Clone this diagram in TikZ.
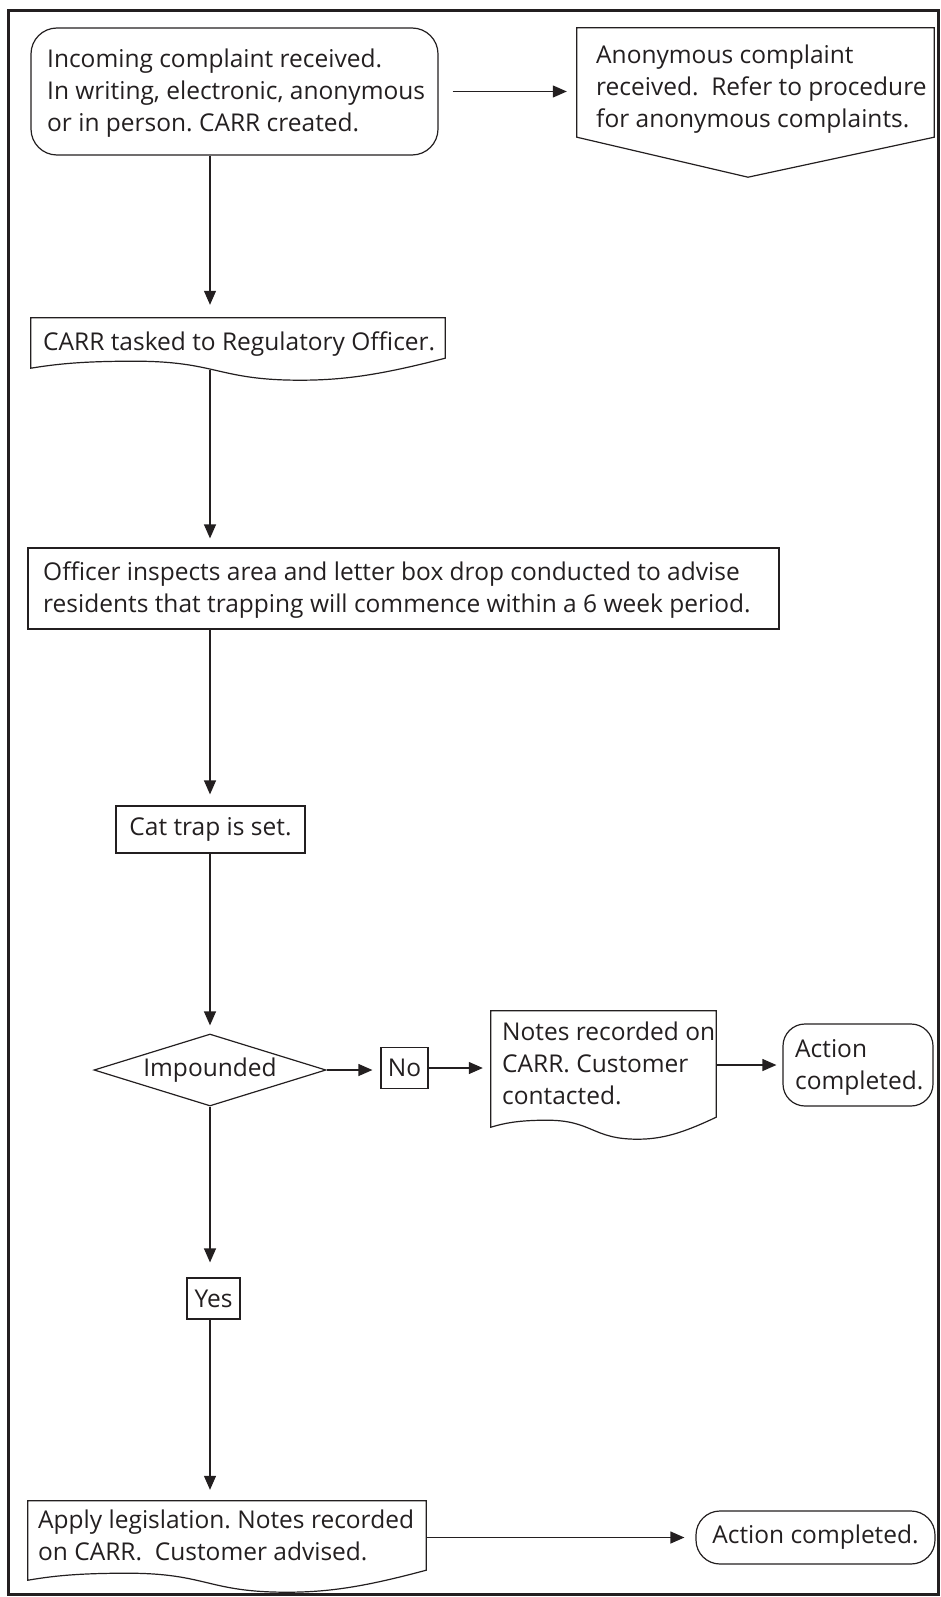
\documentclass[tikz,border=0pt]{standalone}
\usepackage{fontspec}
\setmainfont{Open Sans}
\usetikzlibrary{arrows.meta,shapes.geometric,calc}
\definecolor{ink}{HTML}{231F20}
\newcommand\fs{\fontsize{24.5pt}{32pt}\selectfont}
\newcommand\docshape[1]{%
  \draw[shapeline] (#1.north west) -- (#1.north east) -- ($(#1.south east)+(0,-10)$)
    .. controls ($(#1.south west)!0.85!(#1.south east)+(0,6)$) and ($(#1.south west)!0.76!(#1.south east)+(0,12)$) .. ($(#1.south west)!0.65!(#1.south east)+(0,12)$)
    .. controls ($(#1.south west)!0.45!(#1.south east)+(0,12)$) and ($(#1.south west)!0.45!(#1.south east)+(0,-7)$) .. ($(#1.south west)!0.25!(#1.south east)+(0,-7)$)
    .. controls ($(#1.south west)!0.12!(#1.south east)+(0,-7)$) and ($(#1.south west)!0.06!(#1.south east)+(0,-4)$) .. (#1.south west) -- cycle;}
\begin{document}
\frenchspacing
\begin{tikzpicture}[x=1pt,y=-1pt,
  shapeline/.style={draw=ink, line width=1.2pt, line join=miter},
  box/.style={draw=ink, line width=1.2pt, inner sep=0pt, text=ink, font=\fs},
  ghost/.style={draw=none, inner sep=0pt},
  txt/.style={inner sep=0pt, anchor=north west, align=left, text=ink, font=\fs},
  arr/.style={draw=ink, line width=1.2pt, -{Triangle[length=14pt,width=12pt]}},
  frame/.style={draw=ink, line width=3pt}]
\useasboundingbox (0,0) rectangle (941,1597);
\draw[frame] (8.5,10.3) rectangle (938.5,1594.5);
\coordinate (col) at (210,0);

% shapes
\node[box, rounded corners=26pt, minimum width=407pt, minimum height=127pt] (b1) at (234.5,91.5) {};
\node[txt] (b1t) at (47,44.6) {\strut Incoming complaint received.\\In writing, electronic, anonymous\\or in person. CARR created.};

\node[ghost, minimum width=357pt, minimum height=109pt] (anon) at (755.5,82.5) {};
\draw[shapeline] (anon.north west) -- (anon.north east) -- (anon.south east)
  -- ($(anon.south west)!0.479!(anon.south east)+(0,40)$) -- (anon.south west) -- cycle;
\node[txt] (anont) at (596,40.6) {\strut Anonymous complaint\\received.\ \ Refer to procedure\\for anonymous complaints.};

\node[ghost, minimum width=414pt, minimum height=50pt] (carr) at (238,343) {};
\docshape{carr}
\node[txt] (carrt) at (43,327.6) {\strut CARR tasked to Regulatory Officer.};

\node[box, minimum width=751pt, minimum height=81pt] (off) at (403.5,588.5) {};
\node[txt] (offt) at (43,557.6) {\strut Officer inspects area and letter box drop conducted to advise\\residents that trapping will commence within a 6 week period.};

\node[box, minimum width=189pt, minimum height=47pt] (cat) at (210.5,829.5) {Cat trap is set.};

\node[box, diamond, aspect=3.2, minimum width=232pt, minimum height=72pt] (imp) at (210,1070) {Impounded};

\node[box, minimum width=47pt, minimum height=41pt] (no) at (404.5,1068) {No};

\node[ghost, minimum width=225pt, minimum height=116pt] (notes) at (603.5,1069) {};
\docshape{notes}
\node[txt] (notest) at (502,1017.6) {\strut Notes recorded on\\CARR. Customer\\contacted.};

\node[box, rounded corners=22pt, minimum width=150pt, minimum height=82pt] (act1) at (858,1065) {};
\node[txt] (act1t) at (795,1034.6) {\strut Action\\completed.};

\node[box, minimum width=53pt, minimum height=41pt] (yes) at (213.5,1298.5) {Yes};

\node[ghost, minimum width=398pt, minimum height=79pt] (apply) at (227,1540.5) {};
\docshape{apply}
\node[txt] (applyt) at (38,1505.6) {\strut Apply legislation. Notes recorded\\on CARR.\ \ Customer advised.};

\node[box, rounded corners=24pt, minimum width=239pt, minimum height=53pt] (act2) at (815.5,1537.5) {Action completed.};

% connectors
\draw[arr, shorten <=14pt, shorten >=10pt] (b1.east) -- (b1.east -| anon.west);
\draw[arr, shorten >=13pt] (b1.south -| col) -- (carr.north -| col);
\draw[arr, shorten <=2pt, shorten >=9pt] (carr.south -| col) -- (off.north -| col);
\draw[arr, shorten >=11pt] (off.south -| col) -- (cat.north -| col);
\draw[arr, shorten >=8pt] (cat.south -| col) -- (imp.north);
\draw[arr, shorten >=8pt] (imp.east) -- (imp.east -| no.west);
\draw[arr, shorten >=8pt] (no.east) -- (no.east -| notes.west);
\draw[arr, shorten >=6pt] (act1.west -| notes.east) -- (act1.west);
\draw[arr, shorten >=15pt] (imp.south) -- (imp.south |- yes.north);
\draw[arr, shorten >=11pt] (yes.south -| col) -- (apply.north -| col);
\draw[arr, shorten >=11pt] (act2.west -| apply.east) -- (act2.west);
\end{tikzpicture}
\end{document}
